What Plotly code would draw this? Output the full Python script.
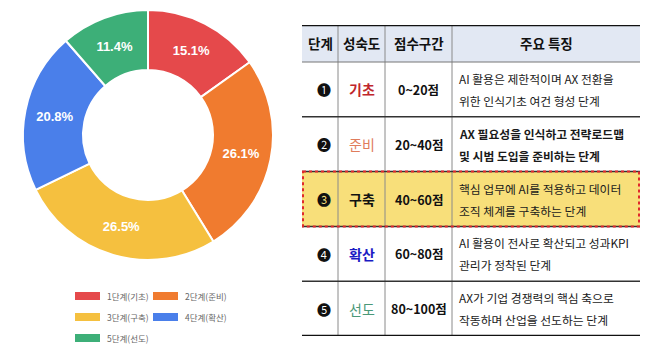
import plotly.graph_objects as go

W, H = 658, 349

# ---------------- data ----------------
stage_labels = ['1단계(기초)', '2단계(준비)', '3단계(구축)', '4단계(확산)', '5단계(선도)']
stage_shares = [15.1, 26.1, 26.5, 20.8, 11.4]
slice_colors = ['#e5494b', '#f07b2f', '#f5c03f', '#4a7fea', '#3daf78']

header_cols = ['단계', '성숙도', '점수구간', '주요 특징']
step_marks = ['❶', '❷', '❸', '❹', '❺']
maturity = ['기초', '준비', '구축', '확산', '선도']
maturity_colors = ['#c0262c', '#e07c5c', '#111111', '#1a1ac4', '#4a9878']
maturity_bold = [True, False, True, True, False]
score_ranges = ['0~20점', '20~40점', '40~60점', '60~80점', '80~100점']
desc_line1 = ['AI 활용은 제한적이며 AX 전환을', 'AX 필요성을 인식하고 전략로드맵',
              '핵심 업무에 AI를 적용하고 데이터', 'AI 활용이 전사로 확산되고 성과KPI',
              'AX가 기업 경쟁력의 핵심 축으로']
desc_line2 = ['위한 인식기초 여건 형성 단계', '및 시범 도입을 준비하는 단계',
              '조직 체계를 구축하는 단계', '관리가 정착된 단계',
              '작동하며 산업을 선도하는 단계']
desc_bold = [False, True, False, False, False]
highlight_row = 2

FONT = 'Noto Sans CJK KR, Noto Sans, sans-serif'

fig = go.Figure()

# ---------------- donut ----------------
cx, cy, r = 148, 135, 125
fig.add_trace(go.Pie(
    labels=stage_labels, values=stage_shares,
    marker=dict(colors=slice_colors, line=dict(color='white', width=2)),
    hole=0.52, sort=False, direction='clockwise', rotation=0,
    texttemplate='%{value:.1f}%', textposition='inside',
    insidetextorientation='horizontal',
    textfont=dict(color='white', size=13, family='Liberation Sans, Arial, sans-serif', weight='bold'),
    domain=dict(x=[(cx - r) / W, (cx + r) / W], y=[(H - cy - r) / H, (H - cy + r) / H]),
    showlegend=False, hoverinfo='label+value',
))

shapes = []
annotations = []

# ---------------- custom legend ----------------
for i, (lab, col) in enumerate(zip(stage_labels, slice_colors)):
    c, rr = i % 2, i // 2
    x0 = 75 + c * 78
    yc = 296 + rr * 21
    shapes.append(dict(type='rect', xref='paper', yref='paper',
                       x0=x0 / W, x1=(x0 + 25) / W,
                       y0=(H - yc - 4) / H, y1=(H - yc + 4) / H,
                       fillcolor=col, line=dict(width=0)))
    annotations.append(dict(xref='paper', yref='paper', x=(x0 + 30) / W, y=(H - yc) / H,
                            text=lab, showarrow=False, xanchor='left', yanchor='middle',
                            font=dict(size=8.5, color='#666666', family=FONT)))

# ---------------- table (on its own hidden axes, 1 unit = 1 px) ----------------
TX0, TX1, TY0, TY1 = 302, 640, 25, 336
tw, th = TX1 - TX0, TY1 - TY0
col_edges = [0, 36, 83, 150, tw]
header_h = 37
row_h = (th - header_h) / len(maturity)
row_edges = [0, header_h] + [header_h + (k + 1) * row_h for k in range(len(maturity))]

fig.add_trace(go.Scatter(x=[0, tw], y=[0, th], xaxis='x2', yaxis='y2', mode='markers',
                         marker=dict(opacity=0), hoverinfo='skip', showlegend=False))

def S(**kw):
    d = dict(xref='x2', yref='y2')
    d.update(kw)
    shapes.append(d)

# header background
S(type='rect', x0=0, x1=tw, y0=0, y1=header_h, fillcolor='#e2e8f3', line=dict(width=0), layer='below')
# highlighted row
hy0, hy1 = row_edges[highlight_row + 1], row_edges[highlight_row + 2]
S(type='rect', x0=0, x1=tw, y0=hy0, y1=hy1, fillcolor='#f8df7a', line=dict(width=0), layer='below')
# vertical lines
for xe in col_edges[1:-1]:
    S(type='line', x0=xe, x1=xe, y0=0, y1=th, line=dict(color='#8a8a8a', width=1))
# horizontal lines
S(type='line', x0=0, x1=tw, y0=header_h, y1=header_h, line=dict(color='#777777', width=1))
for k, ye in enumerate(row_edges[2:-1]):
    S(type='line', x0=0, x1=tw, y0=ye, y1=ye, line=dict(color='#333333', width=1.5))
S(type='line', x0=0, x1=tw, y0=0, y1=0, line=dict(color='#111111', width=2.5))
S(type='line', x0=0, x1=tw, y0=th, y1=th, line=dict(color='#111111', width=2.5))
# dotted border of highlighted row
S(type='rect', x0=1, x1=tw - 1, y0=hy0, y1=hy1, line=dict(color='#e0282c', width=2, dash='dot'))

def A(x, y, text, size, color='#111111', bold=False, xanchor='center'):
    annotations.append(dict(xref='x2', yref='y2', x=x, y=y, text=text, showarrow=False,
                            xanchor=xanchor, yanchor='middle',
                            font=dict(size=size, color=color, family=FONT,
                                      weight='bold' if bold else 'normal')))

col_centers = [(col_edges[j] + col_edges[j + 1]) / 2 for j in range(4)]
for j, h in enumerate(header_cols):
    A(col_centers[j], header_h / 2, h, 13.5, bold=True)

for i in range(len(maturity)):
    yc = (row_edges[i + 1] + row_edges[i + 2]) / 2
    A(col_centers[0] + 4, yc, step_marks[i], 14)
    A(col_centers[1], yc, maturity[i], 14, color=maturity_colors[i], bold=maturity_bold[i])
    A(col_centers[2], yc, score_ranges[i], 12.5, bold=True)
    A(col_edges[3] + 5, yc - 11, desc_line1[i], 11.8, color='#1a1a1a', bold=desc_bold[i], xanchor='left')
    A(col_edges[3] + 5, yc + 11, desc_line2[i], 11.8, color='#1a1a1a', bold=desc_bold[i], xanchor='left')

fig.update_layout(
    width=W, height=H, margin=dict(l=0, r=0, t=0, b=0),
    paper_bgcolor='white', plot_bgcolor='rgba(0,0,0,0)',
    xaxis2=dict(domain=[TX0 / W, TX1 / W], range=[0, tw], visible=False, fixedrange=True, anchor='y2'),
    yaxis2=dict(domain=[(H - TY1) / H, (H - TY0) / H], range=[th, 0], visible=False, fixedrange=True, anchor='x2'),
    shapes=shapes, annotations=annotations,
)

fig.write_html('out.html')
